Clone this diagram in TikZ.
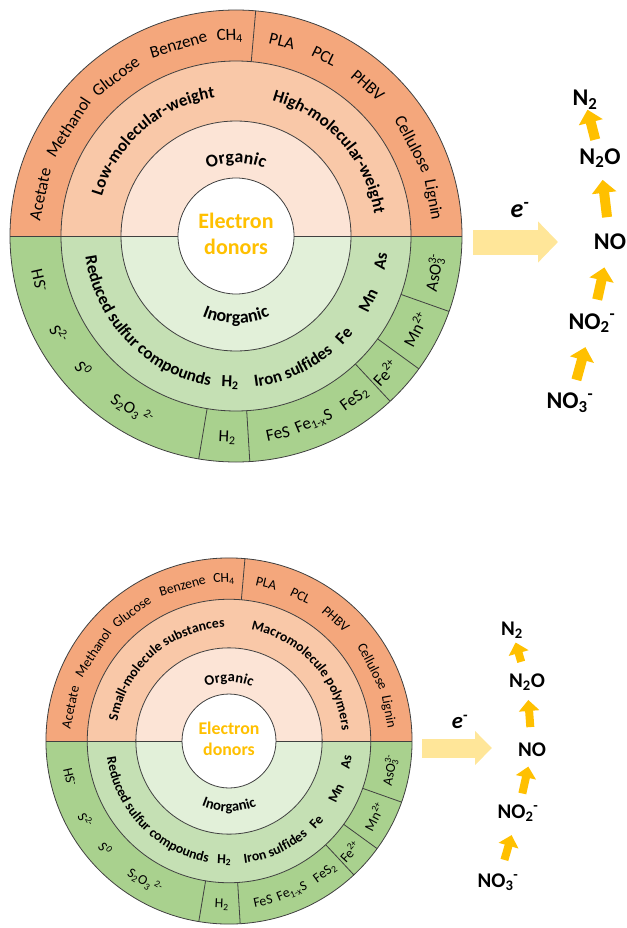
\documentclass[tikz,border=0pt]{standalone}
\usepackage{fontspec}
\setmainfont{Carlito}
\usetikzlibrary{arrows.meta}
\usetikzlibrary{decorations.text}

\definecolor{orgdark}{HTML}{F4A77C}
\definecolor{orgmid}{HTML}{F9C8A8}
\definecolor{orglight}{HTML}{FCE4D6}
\definecolor{inodark}{HTML}{A9D18E}
\definecolor{inomid}{HTML}{C5E0B4}
\definecolor{inolight}{HTML}{E2F0D9}
\definecolor{gold}{HTML}{FFC000}
\definecolor{palegold}{HTML}{FFE699}

\def\ws{1}
\newcommand\fsz[1]{\fontsize{\fpeval{#1*\ws}}{\fpeval{1.2*#1*\ws}}\selectfont}

\tikzset{
  ring/.style={draw=black!75, line width=0.8pt},
  word/.style={font=\fsz{17}, inner sep=1pt},
  boldword/.style={font=\bfseries\fsz{17}, inner sep=1pt},
  species/.style={font=\bfseries\fsz{24}},
  redox/.style={draw=gold, line width=10pt, -{Triangle[width=24pt,length=13pt]}},
  redoxsmall/.style={draw=gold, line width=8pt, -{Triangle[width=20pt,length=11pt]}},
}

% #1 name prefix, #2 centre, #3 scale, #4 and #5 labels of the organic half
\newcommand\donorwheel[5]{%
\def\ws{#3}%
\begin{scope}[shift={#2}]
  \coordinate (#1-c) at (0,0);
  % half rings, outside in
  \foreach \rr/\cu/\cd in {226/orgdark/inodark, 175/orgmid/inomid, 115/orglight/inolight}{
    \fill[\cu] (0:{\ws*\rr}) arc[start angle=0, end angle=180, radius=\ws*\rr] -- cycle;
    \fill[\cd] (180:{\ws*\rr}) arc[start angle=180, end angle=360, radius=\ws*\rr] -- cycle;
  }
  \fill[white] (#1-c) circle[radius=\ws*58];
  \foreach \rr in {58,115,175,226}
    \draw[ring] (#1-c) circle[radius=\ws*\rr];
  \draw[ring] (180:{\ws*226}) -- (180:{\ws*58});
  \draw[ring] (0:{\ws*58}) -- (0:{\ws*226});
  \foreach \a in {85,260.5,273.5,313,324,340.5}
    \draw[ring] (\a:{\ws*175}) -- (\a:{\ws*226});
  % centre
  \node[align=center, text=gold, font=\bfseries\fsz{22}] (#1-donor) at (0,2) {Electron\\donors};
  \path[decorate, decoration={text along path, text align=center,
    text={|\bfseries\fsz{18}|Organic}}] (150:{\ws*73}) arc[start angle=150, end angle=30, radius=\ws*73];
  \path[decorate, decoration={text along path, text align=center,
    text={|\bfseries\fsz{18}|Inorganic}}] (210:{\ws*87}) arc[start angle=210, end angle=330, radius=\ws*87];
  % middle ring
  \path[decorate, decoration={text along path, text align=center,
    text={|\bfseries\fsz{17}|#4}}] (191:{\ws*140}) arc[start angle=191, end angle=71, radius=\ws*140];
  \path[decorate, decoration={text along path, text align=center,
    text={|\bfseries\fsz{17}|#5}}] (102:{\ws*140}) arc[start angle=102, end angle=-18, radius=\ws*140];
  \path[decorate, decoration={text along path, text align=center,
    text={|\bfseries\fsz{17}|Reduced sulfur compounds}}] (164:{\ws*152}) arc[start angle=164, end angle=284, radius=\ws*152];
  \path[decorate, decoration={text along path, text align=center,
    text={|\bfseries\fsz{17}|Iron sulfides}}] (253.5:{\ws*152}) arc[start angle=253.5, end angle=333.5, radius=\ws*152];
  \foreach \a/\w [count=\i] in {267.7/{H\textsubscript{2}}, 317.2/Fe, 334/Mn, 350/As}
    \node[boldword, rotate=\a+90] (#1-el\i) at (\a:{\ws*147}) {\w};
  % outer ring
  \foreach \a/\w [count=\i] in {168/Acetate, 147/Methanol, 127/Glucose, 106.7/Benzene,
      91.8/{CH\textsubscript{4}}, 76.7/PLA, 63.8/PCL, 48.8/PHBV, 27.4/Cellulose, 10.4/Lignin}
    \node[word, rotate=\a-90] (#1-org\i) at (\a:{\ws*200}) {\w};
  \foreach \a/\w [count=\i] in {192.8/{HS\textsuperscript{-}}, 208.9/{S\textsuperscript{2-}},
      221/{S\textsuperscript{0}}, 239/{S\textsubscript{2}O\textsubscript{3}\,\textsuperscript{2-}},
      267.5/{H\textsubscript{2}}, 282/FeS, 292.7/{Fe\textsubscript{1-x}S}, 306/{FeS\textsubscript{2}},
      317.5/{Fe\textsuperscript{2+}}, 332.5/{Mn\textsuperscript{2+}},
      349.5/{AsO\rlap{\textsubscript{3}}\textsuperscript{3-}}}
    \node[word, rotate=\a+90] (#1-ino\i) at (\a:{\ws*202}) {\w};
\end{scope}}

\begin{document}
\begin{tikzpicture}[x=1pt, y=1pt]
\useasboundingbox (0,0) rectangle (626,-928);

\donorwheel{up}{(236,-236)}{1}{Low-molecular-weight}{High-molecular-weight}

% denitrification, first figure
\def\ws{1}
\node[species] (n2a) at (585,-100) {N\textsubscript{2}};
\node[species] (n2oa) at (600,-158) {N\textsubscript{2}O};
\node[species] (noa) at (610,-242) {NO};
\node[species] (no2a) at (592,-323) {NO\textsubscript{2}\textsuperscript{-}};
\node[species] (no3a) at (570,-403) {NO\textsubscript{3}\textsuperscript{-}};
\draw[redox, shorten <=24pt, shorten >=25pt] (no3a.center) -- (no2a.center);
\draw[redox, shorten <=24pt, shorten >=26pt] (no2a.center) -- (noa.center);
\draw[redox, shorten <=25pt, shorten >=22pt] (noa.center) -- (n2oa.center);
\draw[redox, shorten <=19pt, shorten >=10pt] (n2oa.center) -- (n2a.center);
\coordinate (ea) at (473,-242);
\coordinate (eb) at (558,-242);
\draw[palegold, line width=25pt, -{Triangle[width=40pt,length=20pt]}] (ea) -- (eb);
\node[font=\bfseries\itshape\fsz{26}] (ela) at (520,-210) {e\textsuperscript{-}};

\donorwheel{low}{(229,-741)}{0.81}{Small-molecule substances}{Macromolecule polymers}

% denitrification, second figure
\def\ws{0.87}
\node[species] (n2b) at (512,-630) {N\textsubscript{2}};
\node[species] (n2ob) at (527,-682) {N\textsubscript{2}O};
\node[species] (nob) at (532,-750) {NO};
\node[species] (no2b) at (518,-813) {NO\textsubscript{2}\textsuperscript{-}};
\node[species] (no3b) at (498,-882) {NO\textsubscript{3}\textsuperscript{-}};
\draw[redoxsmall, shorten <=23pt, shorten >=23pt] (no3b.center) -- (no2b.center);
\draw[redoxsmall, shorten <=20pt, shorten >=17pt] (no2b.center) -- (nob.center);
\draw[redoxsmall, shorten <=23pt, shorten >=18pt] (nob.center) -- (n2ob.center);
\draw[redoxsmall, shorten <=21pt, shorten >=13pt] (n2ob.center) -- (n2b.center);
\coordinate (ec) at (422,-748);
\coordinate (ed) at (492,-748);
\draw[palegold, line width=19pt, -{Triangle[width=33pt,length=17pt]}] (ec) -- (ed);
\node[font=\bfseries\itshape\fsz{26}] (elb) at (460,-722) {e\textsuperscript{-}};
\end{tikzpicture}
\end{document}
